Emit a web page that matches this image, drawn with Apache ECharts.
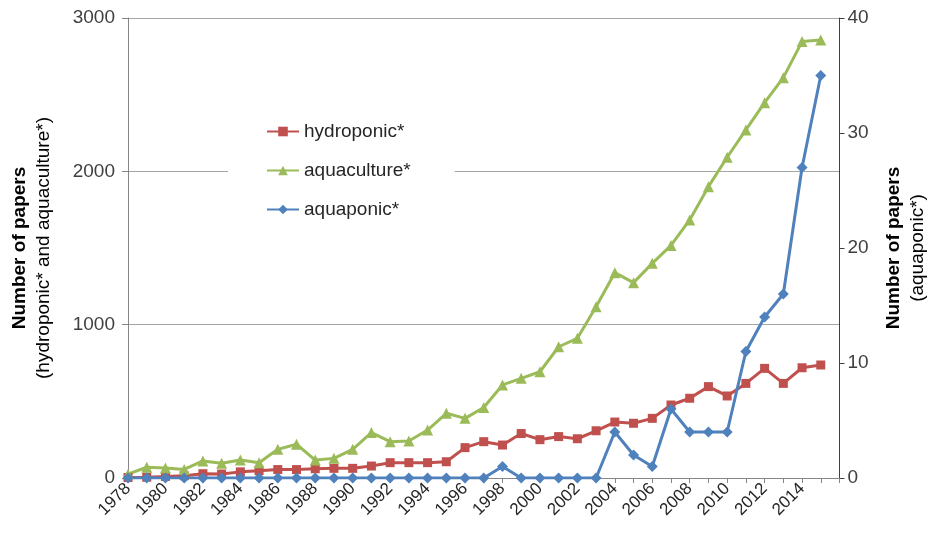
<!DOCTYPE html>
<html>
<head>
<meta charset="utf-8">
<script src="https://cdn.jsdelivr.net/npm/echarts@6/dist/echarts.min.js"></script>
<style>
html,body{margin:0;padding:0;background:#fff;}
#chart{width:935px;height:533px;}
</style>
</head>
<body>
<div id="chart"></div>
<script>
const years = ['1978','1979','1980','1981','1982','1983','1984','1985','1986','1987','1988','1989','1990','1991','1992','1993','1994','1995','1996','1997','1998','1999','2000','2001','2002','2003','2004','2005','2006','2007','2008','2009','2010','2011','2012','2013','2014','2015'];
const hydroponic = [3,5,10,15,28,26,40,48,55,55,60,63,63,78,100,100,100,106,198,237,215,290,250,270,256,308,365,357,389,476,520,596,535,617,715,617,719,737];
const aquaculture = [25,70,65,56,111,96,117,100,187,220,117,128,187,296,237,241,313,422,389,460,607,650,693,856,911,1117,1339,1274,1400,1517,1683,1900,2092,2270,2448,2611,2846,2857];
const aquaponic = [0,0,0,0,0,0,0,0,0,0,0,0,0,0,0,0,0,0,0,0,1,0,0,0,0,0,4,2,1,6,4,4,4,11,14,16,27,35];
const leftTicks = [0,1000,2000,3000];
const rightTicks = [0,10,20,30,40];

const FONT = "'Liberation Sans', Arial, sans-serif";
const categories = years.concat(['']);

const chart = echarts.init(document.getElementById('chart'), null, {renderer:'canvas'});
chart.setOption({
  animation:false,
  textStyle:{fontFamily:FONT},
  grid:{left:128, right:92, top:18, bottom:55, containLabel:false},
  legend:{
    orient:'vertical', left:228, top:114,
    padding:[8,44,12,38], backgroundColor:'#fff',
    itemWidth:32, itemHeight:12, itemGap:20,
    textStyle:{fontFamily:FONT, fontSize:19, color:'#262626'},
    data:['hydroponic*','aquaculture*','aquaponic*']
  },
  xAxis:{
    type:'category', data:categories, boundaryGap:false,
    axisLine:{lineStyle:{color:'#868686', width:1}},
    axisTick:{show:true, interval:0, length:5, lineStyle:{color:'#868686'}},
    axisLabel:{interval:1, rotate:45, fontSize:17, color:'#262626', fontFamily:FONT, margin:8},
    splitLine:{show:false}
  },
  yAxis:[{
    type:'value', min:leftTicks[0], max:leftTicks[leftTicks.length-1], interval:1000, position:'left',
    axisLine:{show:true, lineStyle:{color:'#868686'}},
    axisTick:{show:true, length:6, lineStyle:{color:'#868686'}},
    axisLabel:{fontSize:19, color:'#404040', margin:13, fontFamily:FONT, formatter:function(v){return String(v);}},
    splitLine:{show:true, lineStyle:{color:'#a6a6a6', width:1.2}},
    name:'{b|Number of papers}\n{n|(hydroponic* and aquaculture*)}',
    nameLocation:'middle', nameRotate:90, nameGap:72,
    nameTextStyle:{rich:{
      b:{fontSize:19, fontWeight:'bold', color:'#000', fontFamily:FONT, lineHeight:24},
      n:{fontSize:19, color:'#000', fontFamily:FONT, lineHeight:24}
    }, align:'center'}
  },{
    type:'value', min:rightTicks[0], max:rightTicks[rightTicks.length-1], interval:10, position:'right',
    axisLine:{show:true, lineStyle:{color:'#404040'}},
    axisTick:{show:true, length:5, lineStyle:{color:'#404040'}},
    axisLabel:{fontSize:19, color:'#404040', margin:8, fontFamily:FONT, formatter:function(v){return String(v);}},
    splitLine:{show:false},
    name:'{b|Number of papers}\n{n|(aquaponic*)}',
    nameLocation:'middle', nameRotate:90, nameGap:42,
    nameTextStyle:{rich:{
      b:{fontSize:19, fontWeight:'bold', color:'#000', fontFamily:FONT, lineHeight:24},
      n:{fontSize:19, color:'#000', fontFamily:FONT, lineHeight:24}
    }, align:'center'}
  }],
  series:[{
    name:'hydroponic*', type:'line', yAxisIndex:0, data:hydroponic,
    symbol:'rect', symbolSize:9, color:'#C0504D',
    lineStyle:{width:3, color:'#C0504D'}, itemStyle:{color:'#C0504D'}
  },{
    name:'aquaculture*', type:'line', yAxisIndex:0, data:aquaculture,
    symbol:'triangle', symbolSize:11, color:'#9BBB59',
    lineStyle:{width:3, color:'#9BBB59'}, itemStyle:{color:'#9BBB59'}
  },{
    name:'aquaponic*', type:'line', yAxisIndex:1, data:aquaponic,
    symbol:'diamond', symbolSize:11, color:'#4F81BD',
    lineStyle:{width:3, color:'#4F81BD'}, itemStyle:{color:'#4F81BD'}
  }]
});
</script>
</body>
</html>
